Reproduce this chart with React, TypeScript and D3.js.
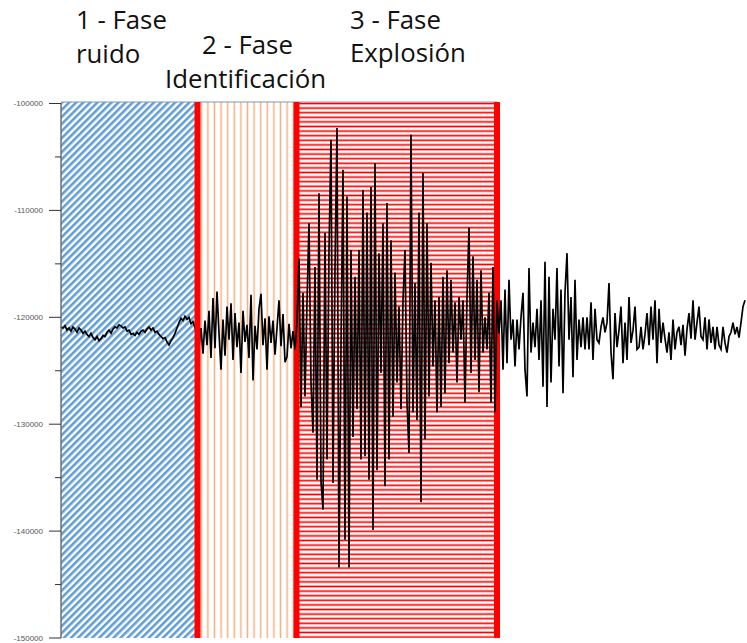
import React from 'react';
import * as d3 from 'd3';

// Seismic trace samples (counts), phase by phase
const noisePhase = [
  -120900, -121000, -120800, -121200, -121000, -121300, -120900, -121100, -121400, -121000,
  -121200, -121500, -121300, -121600, -121800, -121500, -121900, -122100, -121800, -122200,
  -122000, -121700, -121800, -121400, -121200, -121500, -121100, -120900, -121000, -120700,
  -120800, -121000, -120900, -121300, -121200, -121600, -121500, -121700, -121400, -121600,
  -121300, -121200, -121400, -121100, -120900, -121200, -121000, -121400, -121300, -121600,
  -121800, -122000, -121900, -122300, -122600, -122200, -121900, -121500, -121000, -120500,
  -120100, -120300, -119900, -120200, -120000, -120600, -120400, -121000,
];

const identificationPhase = [
  -121500, -122800, -121000, -123400, -120300, -122600, -119400, -123800, -118200, -122900,
  -117600, -121500, -124900, -120200, -123600, -119000, -122100, -118700, -124000, -119600,
  -122800, -120500, -125200, -119400, -122300, -120700, -123800, -117900, -125900, -120800,
  -123000, -119200, -117800, -122600, -120100, -124900, -119900, -122400, -120300, -123500,
  -121000, -118400, -122700, -119700, -124200, -123700, -120600, -122900, -121300, -123000,
  -120400,
];

const explosionPhase = [
  -114500, -128400, -117700, -127400, -118600, -111200, -126100, -130800, -115300, -135200,
  -108400, -135400, -138000, -112100, -133300, -113700, -103400, -135500, -115300, -102300,
  -143400, -122800, -106200, -140800, -108700, -143400, -113700, -131200, -116200, -128600,
  -113700, -133300, -108100, -133000, -110200, -135200, -107800, -139900, -105600, -134300,
  -114000, -125200, -111200, -135800, -109300, -133300, -112800, -129300, -115800, -126100,
  -119000, -128600, -118400, -113700, -128000, -132700, -102900, -128900, -116800, -129600,
  -110200, -137300, -106500, -131400, -111200, -127400, -114900, -124600, -118400, -128900,
  -118100, -128400, -116200, -127100, -115600, -124300, -116500, -123300, -118600, -126100,
  -118100, -122100, -118400, -128000, -118100, -111600, -125200, -114300, -124000, -116500,
  -127000, -115600, -123300, -120000, -123000, -117700, -128000, -115300, -128900, -118400,
];

const tailPhase = [
  -121500, -118400, -124900, -117400, -124300, -116500, -122100, -120200, -124600, -120200,
  -123000, -120000, -117700, -124900, -127400, -115400, -123300, -120500, -122800, -119200,
  -124000, -118400, -126500, -114800, -128400, -116200, -126100, -119200, -122100, -115400,
  -124600, -117400, -127100, -117700, -114000, -122100, -118100, -125600, -116500, -124000,
  -120200, -122800, -120000, -123000, -120000, -123000, -118600, -124000, -119200, -122100,
  -122400, -120900, -120000, -121400, -120500, -116800, -123300, -125800, -119600, -122800,
  -121200, -119000, -124300, -120500, -124000, -118100, -122400, -121200, -119000, -123000,
  -122800, -120900, -123000, -121600, -119600, -122600, -119000, -122100, -118400, -124300,
  -119200, -122400, -120500, -122000, -123300, -121400, -124000, -120200, -123000, -121400,
  -120900, -122600, -120700, -123600, -121100, -119600, -122000, -118400, -122100, -120500,
  -119000, -121800, -122100, -120000, -123000, -120200, -122400, -120900, -123000, -120900,
  -122600, -123000, -120900, -122400, -123300, -121800, -121400, -120500, -121600, -120900,
  -121900, -120500, -119000, -118400,
];

const yTickValues = [-100000, -105000, -110000, -115000, -120000, -125000, -130000, -135000, -140000, -145000, -150000];
const yLabelValues = [-100000, -110000, -120000, -130000, -140000, -150000];
const yDomain = [-150000, -100000];

// Phase boundaries, in sample index units
const phaseBounds = [0, 68.25, 117.75, 218];
const phaseTitles = [
  ['1 - Fase', 'ruido'],
  ['2 - Fase', 'Identificación'],
  ['3 - Fase', 'Explosión'],
];

export default function App() {
  const W = 747;
  const H = 643;
  const signal = [...noisePhase, ...identificationPhase, ...explosionPhase, ...tailPhase];
  const x = d3.scaleLinear().domain([0, signal.length - 1]).range([61, 745]);
  const y = d3.scaleLinear().domain(yDomain).range([638, 103.5]);
  const line = d3
    .line<number>()
    .x((_, i) => x(i))
    .y((d) => y(d));

  const top = y(-100000) - 1.5;
  const bottom = y(-150000);
  const barW = 6;
  const b1 = x(phaseBounds[1]);
  const b2 = x(phaseBounds[2]);
  const b3 = x(phaseBounds[3]);
  const axisX = x(0);

  const titleFont = { fontFamily: '"Open Sans", Lato, sans-serif', fontSize: 25.8, fill: '#111' };
  const titlePos = [
    [
      [76, 29],
      [76, 63],
    ],
    [
      [202, 54],
      [165, 88],
    ],
    [
      [350, 29],
      [350, 62],
    ],
  ];

  return (
    <svg
      width={W}
      height={H}
      style={{ position: 'absolute', left: 0, top: 0, background: '#fff' }}
    >
      <defs>
        <pattern id="diag" patternUnits="userSpaceOnUse" width={5} height={5} patternTransform="rotate(45)">
          <rect width={5} height={5} fill="#fff" />
          <line x1={1.3} y1={0} x2={1.3} y2={5} stroke="#5b9bd5" strokeWidth={2.5} />
        </pattern>
        <pattern id="vert" patternUnits="userSpaceOnUse" width={6.6} height={10}>
          <rect width={6.6} height={10} fill="#fff" />
          <line x1={3.3} y1={0} x2={3.3} y2={10} stroke="#f4b183" strokeWidth={1.5} />
        </pattern>
        <pattern id="horiz" patternUnits="userSpaceOnUse" width={10} height={4.6}>
          <rect width={10} height={4.6} fill="#fff" />
          <line x1={0} y1={2.3} x2={10} y2={2.3} stroke="#ff0000" strokeWidth={1.7} />
        </pattern>
      </defs>

      {/* phase regions */}
      <rect x={axisX} y={top} width={b1 - axisX} height={bottom - top} fill="url(#diag)" />
      <rect x={b1} y={top} width={b2 - b1} height={bottom - top} fill="url(#vert)" />
      <rect x={b2} y={top} width={b3 - b2} height={bottom - top} fill="url(#horiz)" />
      <line x1={axisX} x2={b3} y1={top} y2={top} stroke="#8497b0" strokeWidth={1.2} />

      {/* red separators under the trace */}
      <rect x={b2 - barW / 2} y={top} width={barW} height={bottom - top} fill="#ff0000" />
      <rect x={b3 - barW / 2} y={top} width={barW} height={bottom - top} fill="#ff0000" />

      {/* trace */}
      <path d={line(signal) || ''} fill="none" stroke="#000" strokeWidth={1.7} strokeLinejoin="miter" />

      <rect x={b1 - barW / 2} y={top} width={barW} height={bottom - top} fill="#ff0000" />

      {/* y axis */}
      <line x1={axisX} x2={axisX} y1={y(-100000)} y2={y(-150000)} stroke="#707070" strokeWidth={1.5} />
      {yTickValues.map((v) => {
        const major = yLabelValues.includes(v);
        return (
          <line
            key={v}
            x1={axisX - (major ? 12 : 6)}
            x2={axisX}
            y1={y(v)}
            y2={y(v)}
            stroke="#333"
            strokeWidth={1}
          />
        );
      })}
      {yLabelValues.map((v) => (
        <text
          key={v}
          x={43}
          y={y(v)}
          dy="0.35em"
          textAnchor="end"
          style={{ fontFamily: '"Liberation Sans", Arial, sans-serif', fontSize: 8, fill: '#555' }}
        >
          {v}
        </text>
      ))}

      {/* phase titles */}
      {phaseTitles.map((lines, i) =>
        lines.map((t, j) => (
          <text key={`${i}-${j}`} x={titlePos[i][j][0]} y={titlePos[i][j][1]} style={titleFont}>
            {t}
          </text>
        ))
      )}
    </svg>
  );
}
